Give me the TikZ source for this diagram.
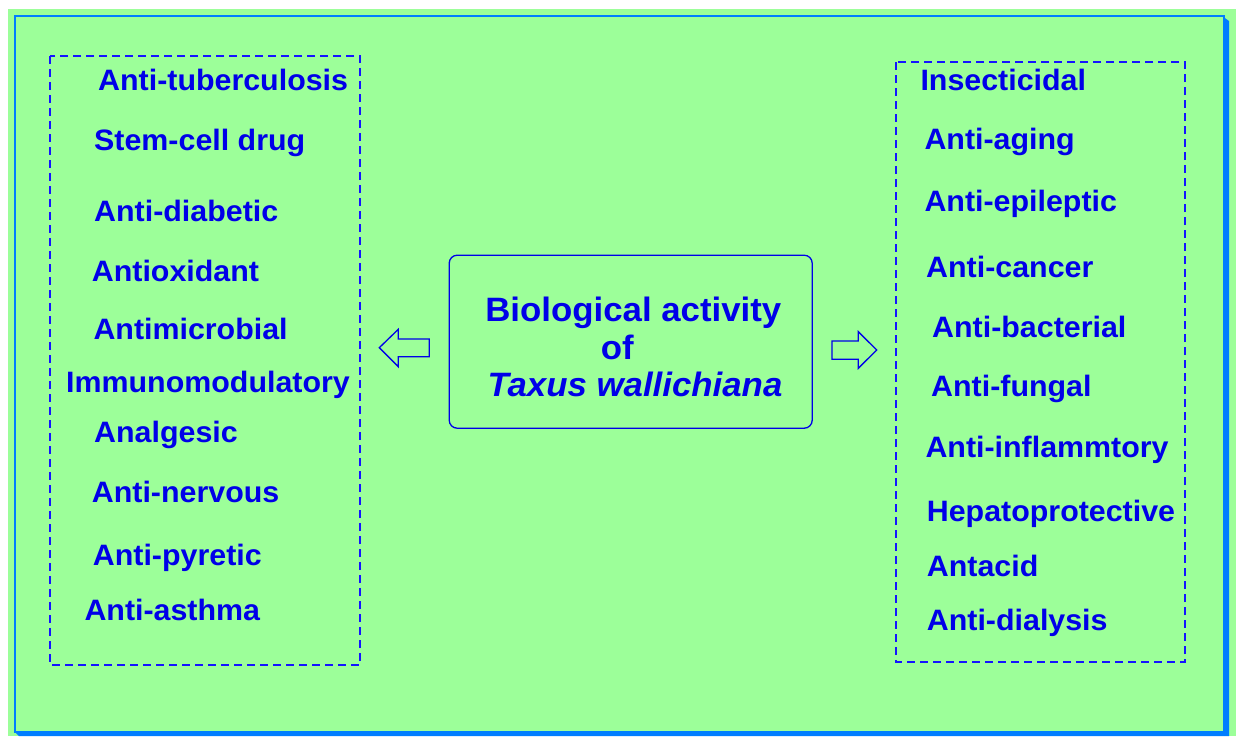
\documentclass[tikz,border=0pt]{standalone}
\usepackage{fontspec}
\setmainfont{Liberation Sans}[FakeStretch=1.03]
\definecolor{bggreen}{RGB}{156,255,153}
\definecolor{framblue}{RGB}{0,125,255}
\definecolor{txtblue}{RGB}{0,0,232}
\definecolor{dashblue}{RGB}{20,20,255}
\tikzset{
  item/.style={anchor=base west, inner sep=0pt, text=txtblue, font=\bfseries\fontsize{29.5}{30}\selectfont},
  ctext/.style={anchor=base, inner sep=0pt, text=txtblue, font=\bfseries\fontsize{33.8}{36}\selectfont},
  dashbox/.style={draw=dashblue, line width=1.3pt, dash pattern=on 8pt off 5pt},
  blockarrow/.style={draw=txtblue, line width=1.3pt, line join=miter},
}
\begin{document}
\begin{tikzpicture}[x=1pt,y=-1pt]
\useasboundingbox (0,0) rectangle (1236,736);
% background
\fill[bggreen] (8,9) rectangle (1236,736);
% frame with shadow
\fill[framblue] (1222,16) -- (1229,21) -- (1229,736) -- (19,736) -- (15,732) -- (1224,732) -- (1224,17) -- cycle;
\draw[framblue, line width=2pt] (15,16) rectangle (1224,732);
% dashed boxes
\draw[dashbox] (50,56) rectangle (360,665);
\draw[dashbox] (896,62) rectangle (1185,662);
% center box
\node[draw=txtblue, line width=1.3pt, rounded corners=8pt, minimum width=363pt, minimum height=173pt, inner sep=0pt] (center) at (630.7,341.7) {};
\node[ctext] (t1) at (633.3,321.7) {Biological activity};
\node[ctext] (t2) at (617.2,359.3) {of};
\node[ctext] (t3) at (635,396.7) {\itshape Taxus wallichiana};
% arrows
\draw[blockarrow] (429.3,339) -- (398.3,339) -- (398.3,329.3) -- (379.3,347.7) -- (398.3,366.7) -- (398.3,356.7) -- (429.3,356.7) -- cycle;
\draw[blockarrow] (832,341) -- (858.3,341) -- (858.3,331.7) -- (876.7,350) -- (858.3,368.3) -- (858.3,359.3) -- (832,359.3) -- cycle;
% left items
\node[item] (l1) at (98,90.7) {Anti-tuberculosis};
\node[item] (l2) at (94,150) {Stem-cell drug};
\node[item] (l3) at (94,221.7) {Anti-diabetic};
\node[item] (l4) at (91.7,281.7) {Antioxidant};
\node[item] (l5) at (93.3,339.3) {Antimicrobial};
\node[item] (l6) at (66,392.3) {Immunomodulatory};
\node[item] (l7) at (94,442.3) {Analgesic};
\node[item] (l8) at (91.7,502.3) {Anti-nervous};
\node[item] (l9) at (92.7,565) {Anti-pyretic};
\node[item] (l10) at (84.3,620.7) {Anti-asthma};
% right items
\node[item] (r1) at (920.3,90.7) {Insecticidal};
\node[item] (r2) at (924.3,149.3) {Anti-aging};
\node[item] (r3) at (924.3,211.7) {Anti-epileptic};
\node[item] (r4) at (926,277.3) {Anti-cancer};
\node[item] (r5) at (932,337.7) {Anti-bacterial};
\node[item] (r6) at (931,396.7) {Anti-fungal};
\node[item] (r7) at (925.3,457.3) {Anti-inflammtory};
\node[item] (r8) at (926.7,521) {Hepatoprotective};
\node[item] (r9) at (926.7,576) {Antacid};
\node[item] (r10) at (926.7,630) {Anti-dialysis};
\end{tikzpicture}
\end{document}
